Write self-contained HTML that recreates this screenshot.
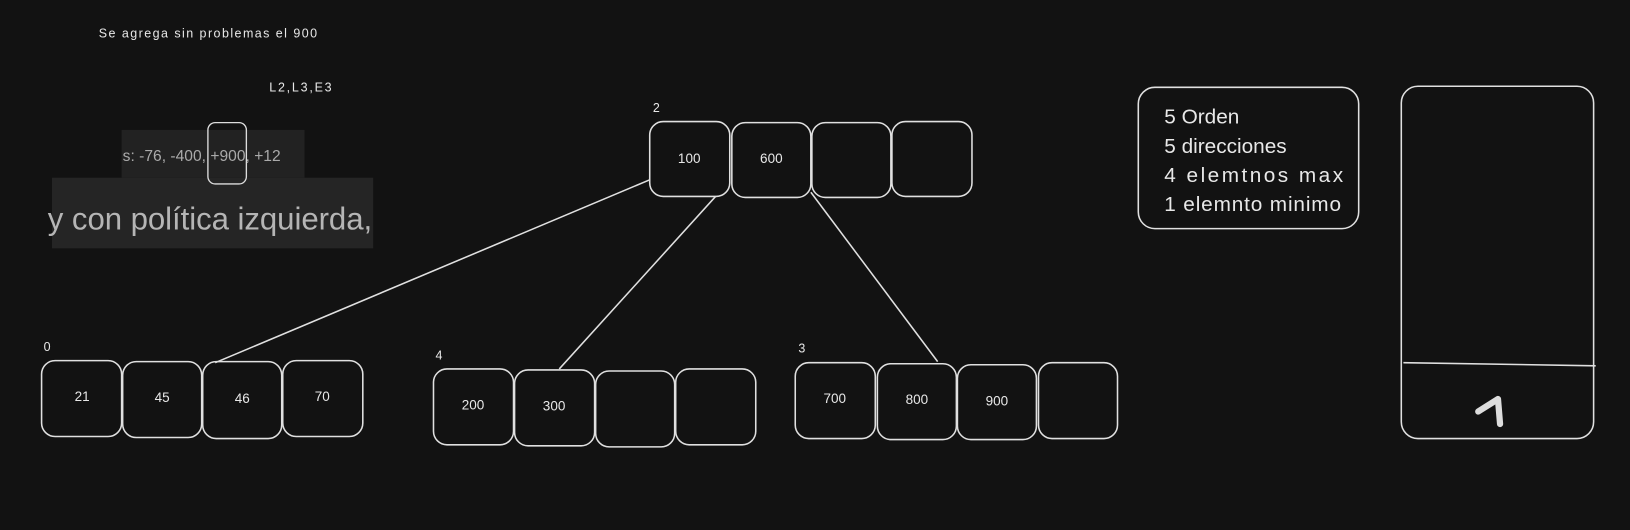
<!DOCTYPE html>
<html><head><meta charset="utf-8"><style>
html,body{margin:0;padding:0;background:#121212;}
svg{display:block;}
text{font-family:"Liberation Sans",sans-serif;fill:#e8e8e8;}
</style></head><body>
<svg width="1630" height="530" viewBox="0 0 1568 510" preserveAspectRatio="none" xmlns="http://www.w3.org/2000/svg">
<rect width="1568" height="510" fill="#121212"/>
<text x="95" y="36" font-size="12" textLength="210">Se agrega sin problemas el 900</text>
<text x="259" y="88" font-size="12" textLength="60">L2,L3,E3</text>
<rect x="117" y="125" width="176" height="46" fill="#222"/>
<text x="118" y="155" font-size="15" style="fill:#aaa" textLength="152">s: -76, -400, +900, +12</text>
<rect x="50" y="171" width="309" height="68" fill="#252525"/>
<text x="46" y="221" font-size="30" style="fill:#b5b5b5" textLength="312">y con política izquierda,</text>
<rect x="200" y="118" width="37" height="59" rx="7" fill="none" stroke="#ddd" stroke-width="1.3"/>
<g fill="none" stroke="#e0e0e0" stroke-width="1.5">
<line x1="625" y1="173" x2="207" y2="349"/>
<line x1="702" y1="174" x2="538" y2="355"/>
<line x1="780" y1="185" x2="902" y2="348"/>
<rect x="625" y="117" width="77" height="72" rx="13" fill="#121212"/>
<rect x="704" y="118" width="76" height="72" rx="13" fill="#121212"/>
<rect x="781" y="118" width="76" height="72" rx="13"/>
<rect x="858" y="117" width="77" height="72" rx="13"/>
<rect x="40" y="347" width="77" height="73" rx="13"/>
<rect x="118" y="348" width="76" height="73" rx="13"/>
<rect x="195" y="348" width="76" height="74" rx="13"/>
<rect x="272" y="347" width="77" height="73" rx="13"/>
<rect x="417" y="355" width="77" height="73" rx="13"/>
<rect x="495" y="356" width="77" height="73" rx="13"/>
<rect x="573" y="357" width="76" height="73" rx="13"/>
<rect x="650" y="355" width="77" height="73" rx="13"/>
<rect x="765" y="349" width="77" height="73" rx="13"/>
<rect x="844" y="350" width="76" height="73" rx="13"/>
<rect x="921" y="351" width="76" height="72" rx="13"/>
<rect x="999" y="349" width="76" height="73" rx="13"/>
<rect x="1095" y="84" width="212" height="136" rx="16"/>
<rect x="1348" y="83" width="185" height="339" rx="16"/>
<line x1="1350" y1="349" x2="1535" y2="352"/>
</g>
<g font-size="13" text-anchor="middle">
<text x="663" y="157">100</text><text x="742" y="157">600</text>
<text x="79" y="386">21</text><text x="156" y="387">45</text><text x="233" y="388">46</text><text x="310" y="386">70</text>
<text x="455" y="394">200</text><text x="533" y="395">300</text>
<text x="803" y="388">700</text><text x="882" y="389">800</text><text x="959" y="390">900</text>
</g>
<g font-size="12"><text x="628" y="108">2</text><text x="42" y="338">0</text><text x="419" y="346">4</text><text x="768" y="339">3</text></g>
<g font-size="20"><text x="1120" y="119">5 Orden</text><text x="1120" y="147">5 direcciones</text><text x="1120" y="175" textLength="172">4 elemtnos max</text><text x="1120" y="203" textLength="170">1 elemnto minimo</text></g>
<path d="M1422 396 L1441 384 L1443 408" fill="none" stroke="#ddd" stroke-width="6" stroke-linecap="round" stroke-linejoin="round"/>
</svg>
</body></html>
